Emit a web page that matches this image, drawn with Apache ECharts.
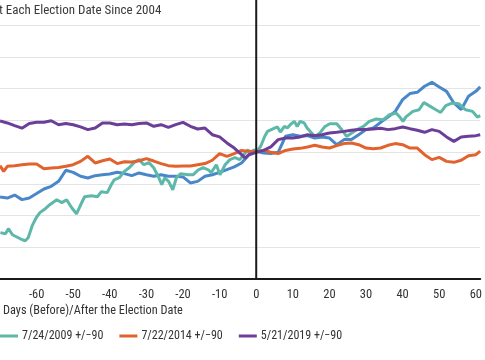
<!DOCTYPE html>
<html>
<head>
<meta charset="utf-8">
<script src="https://cdn.jsdelivr.net/npm/echarts@6/dist/echarts.min.js"></script>
<style>
html,body{margin:0;padding:0;background:#fff;}
#chart{width:485px;height:360px;}
</style>
</head>
<body>
<div id="chart"></div>
<script>
var FONT = "'Liberation Sans Narrow','Roboto Condensed','DejaVu Sans Condensed',Roboto,sans-serif";
var titleText = "t Each Election Date Since 2004";
var xAxisName = "Days (Before)/After the Election Date";
var seriesNames = ["Blue series", "7/24/2009 +/\u221290", "7/22/2014 +/\u221290", "5/21/2019 +/\u221290"];
var seriesColors = ["#4A87C9", "#5DB8AA", "#E2622D", "#6B3E98"];

var blueData = [[-70,97.17],[-68,97.1],[-66,97.29],[-64,97.0],[-62,97.1],[-60,97.38],[-58,97.67],[-56,97.84],[-54,98.15],[-52,98.85],[-50,98.72],[-48,98.47],[-46,98.36],[-44,98.51],[-42,98.57],[-40,98.61],[-38,98.72],[-36,98.64],[-34,98.51],[-32,98.68],[-30,98.57],[-28,98.47],[-26,98.57],[-24,98.47],[-22,98.47],[-20,98.43],[-18,98.05],[-16,98.15],[-14,98.47],[-12,98.57],[-10,98.72],[-8,98.89],[-6,99.06],[-4,99.31],[-2,99.83],[0,100.04],[2,99.94],[4,99.9],[6,99.98],[8,100.99],[10,101.09],[12,100.99],[14,101.03],[16,100.88],[18,100.95],[20,100.88],[22,100.46],[24,100.78],[26,100.78],[28,101.09],[30,101.41],[32,101.51],[34,101.87],[36,102.2],[38,102.56],[40,103.3],[42,103.68],[44,103.76],[46,104.14],[48,104.39],[50,104.1],[52,103.82],[54,103.09],[56,102.67],[58,103.51],[60,103.82],[61.2,104.1]];

var tealData = [[-69.9,94.92],[-68.5,94.85],[-67.7,95.17],[-66.6,94.79],[-65.0,94.6],[-63.9,94.47],[-63.1,94.41],[-62.3,94.6],[-61.2,95.36],[-60.1,95.86],[-59.1,96.18],[-58.0,96.36],[-56.4,96.68],[-54.5,96.99],[-53.1,96.81],[-51.8,96.99],[-50.4,96.49],[-49.1,96.11],[-48.2,96.55],[-46.9,97.18],[-45.0,97.25],[-43.4,97.18],[-42.3,97.5],[-40.7,97.44],[-39.6,97.94],[-38.8,98.25],[-37.4,98.38],[-36.1,98.76],[-34.7,99.01],[-33.4,99.33],[-32.0,99.52],[-30.7,99.2],[-29.3,99.33],[-28.0,99.01],[-26.6,98.38],[-25.8,97.94],[-25.0,98.38],[-23.9,98.13],[-22.8,97.62],[-21.8,98.38],[-20.7,98.63],[-18.5,98.57],[-17.2,98.57],[-15.8,98.88],[-14.5,99.01],[-13.1,98.88],[-12.3,98.7],[-10.9,99.2],[-9.9,98.57],[-8.5,99.2],[-7.2,99.52],[-5.8,99.64],[-4.5,99.52],[-3.4,99.83],[-2.3,100.14],[-1.5,99.89],[-0.7,100.14],[0.1,100.0],[1.2,100.35],[2.3,100.98],[3.1,101.3],[5.0,101.51],[5.8,101.58],[6.6,101.26],[7.7,101.61],[8.5,101.51],[9.3,101.72],[10.4,101.93],[11.2,101.61],[12.0,101.93],[13.1,101.83],[13.9,101.51],[14.7,101.3],[16.1,100.98],[17.4,101.2],[18.8,101.61],[20.1,101.78],[22.0,101.78],[23.4,101.4],[24.7,100.98],[26.1,101.2],[27.4,101.4],[29.3,101.61],[30.9,101.93],[32.8,102.08],[34.7,102.03],[36.4,102.35],[38.2,102.46],[39.1,102.24],[40.1,101.93],[40.9,102.21],[42.8,102.56],[44.5,102.66],[45.8,103.12],[47.2,102.92],[49.1,102.66],[50.4,102.49],[51.8,102.92],[53.6,103.09],[55.3,103.04],[57.2,102.66],[59.1,102.56],[60.4,102.2],[61.2,102.29]];

var orangeData = [[-70,99.14],[-69,98.78],[-68,99.1],[-66,99.14],[-64,99.2],[-62,99.24],[-60,99.24],[-58,98.95],[-56,98.99],[-54,99.03],[-52,99.1],[-50,99.2],[-48,99.41],[-46,99.73],[-44,99.31],[-42,99.45],[-40,99.56],[-38,99.27],[-36,99.39],[-34,99.37],[-32,99.45],[-30,99.58],[-28,99.43],[-26,99.27],[-24,99.14],[-22,99.1],[-20,99.12],[-18,99.12],[-16,99.2],[-14,99.27],[-12,99.48],[-10,99.9],[-8,99.73],[-6,99.9],[-4,100.1],[-2,100.04],[0,100.02],[2,100.1],[4,99.98],[6,99.9],[8,100.1],[10,100.19],[12,100.23],[14,100.32],[16,100.42],[18,100.32],[20,100.25],[22,100.4],[24,100.53],[26,100.57],[28,100.46],[30,100.25],[32,100.21],[34,100.25],[36,100.42],[38,100.53],[40,100.46],[42,100.25],[44,100.25],[46,99.83],[48,99.52],[50,99.66],[52,99.41],[54,99.35],[56,99.48],[58,99.77],[60,99.83],[61.2,100.06]];

var purpleData = [[-70,101.95],[-68,101.83],[-66,101.66],[-64,101.5],[-62,101.79],[-60,101.87],[-58,101.87],[-56,101.97],[-54,101.72],[-52,101.79],[-50,101.72],[-48,101.58],[-46,101.41],[-44,101.51],[-42,101.83],[-40,101.83],[-38,101.72],[-36,101.76],[-34,101.72],[-32,101.79],[-30,101.83],[-28,101.62],[-26,101.72],[-24,101.55],[-22,101.72],[-20,101.87],[-18,101.62],[-16,101.45],[-14,101.51],[-12,101.09],[-10,100.95],[-8,100.57],[-6,100.25],[-4,99.83],[-3,99.62],[-2,99.83],[0,99.98],[2,100.1],[4,100.32],[6,100.78],[8,100.88],[10,100.88],[12,100.95],[14,101.09],[16,101.03],[18,101.09],[20,101.2],[22,101.24],[24,101.3],[26,101.37],[28,101.41],[30,101.41],[32,101.45],[34,101.49],[36,101.41],[38,101.47],[40,101.58],[42,101.47],[44,101.37],[46,101.24],[48,101.41],[50,101.3],[52,100.95],[54,100.67],[56,100.95],[58,100.99],[60,101.03],[61.2,101.09]];

var xMin = -70, xMax = 61.2, xInterval = 10;
var yMin = 92, yMax = 108, yInterval = 2;

var allData = [blueData, tealData, orangeData, purpleData];
var chart = echarts.init(document.getElementById('chart'), null, {renderer: 'canvas'});

var series = allData.map(function (d, i) {
  return {
    name: seriesNames[i],
    type: 'line',
    data: d,
    showSymbol: false,
    symbol: 'none',
    smooth: false,
    lineStyle: {color: seriesColors[i], width: 3},
    itemStyle: {color: seriesColors[i]},
    z: 3 + i,
    animation: false
  };
});

chart.setOption({
  animation: false,
  backgroundColor: '#ffffff',
  title: {
    text: titleText,
    left: -1,
    top: 4,
    padding: 0,
    textStyle: {fontFamily: FONT, fontSize: 13, fontWeight: 'normal', color: '#3a3a3a'}
  },
  legend: {
    data: seriesNames.slice(1),
    left: 0,
    top: 330,
    padding: 0,
    icon: 'rect',
    itemWidth: 18,
    itemHeight: 3,
    itemGap: 16,
    textStyle: {fontFamily: FONT, fontSize: 12, color: '#333333', padding: [0, 0, 0, -1]}
  },
  grid: {left: 0, right: 0, top: 25, bottom: 81, containLabel: false},
  xAxis: {
    type: 'value',
    min: xMin,
    max: xMax,
    interval: xInterval,
    axisLine: {show: true, onZero: false, lineStyle: {color: '#1a1a1a', width: 2}},
    axisTick: {show: false},
    splitLine: {show: false},
    axisLabel: {
      showMinLabel: false,
      showMaxLabel: false,
      margin: 9,
      fontFamily: FONT,
      fontSize: 12.5,
      color: '#333333'
    }
  },
  yAxis: {
    type: 'value',
    min: yMin,
    max: yMax,
    interval: yInterval,
    axisLine: {show: false},
    axisTick: {show: false},
    axisLabel: {show: false},
    splitLine: {show: true, lineStyle: {color: '#e4e4e4', width: 1}}
  },
  series: series
});

var zeroX = chart.convertToPixel({xAxisIndex: 0}, 0);
var bottomY = chart.convertToPixel({yAxisIndex: 0}, yMin);
chart.setOption({
  graphic: [
    {
      type: 'line',
      shape: {x1: zeroX, y1: 0, x2: zeroX, y2: bottomY},
      style: {stroke: '#1a1a1a', lineWidth: 2},
      z: 100
    },
    {
      type: 'text',
      left: 3,
      top: 305,
      style: {text: xAxisName, font: '12.3px ' + FONT, fill: '#333333'}
    }
  ]
});
</script>
</body>
</html>
